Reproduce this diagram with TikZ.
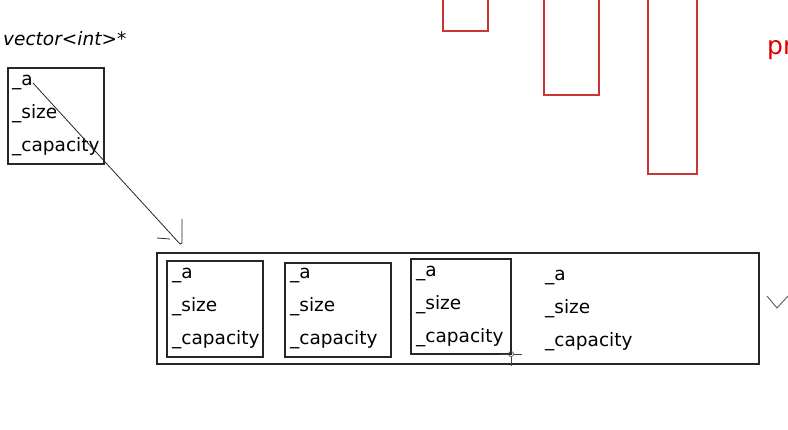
\documentclass[tikz,border=0pt]{standalone}
\usepackage{fontspec}
\setmainfont{DejaVu Sans}
\begin{document}
\begin{tikzpicture}[x=1pt,y=-1pt,
  blk/.style={draw=black!85,line width=1.1pt},
  redbox/.style={draw=red!75!black!80,line width=1.1pt},
  fld/.style={anchor=base west,inner sep=0pt,font=\fontsize{18.5}{20}\selectfont,text=black},
  thin/.style={draw=black!85,line width=0.8pt}]
\useasboundingbox (0,0) rectangle (788,430);
\clip (0,0) rectangle (788,430);
% red rectangles at top
\draw[redbox] (443,-2) rectangle (488,31);
\draw[redbox] (544,-2) rectangle (599,95);
\draw[redbox] (648,-2) rectangle (697,174);
\node[anchor=base west,inner sep=0pt,text=red!85!black,font=\fontsize{25}{28}\selectfont] (pr) at (767,55) {pr};
% pointer label
\node[anchor=base west,inner sep=0pt,font=\fontsize{18.5}{20}\selectfont\itshape,text=black] (lbl) at (3,46) {vector<int>*};
% pointer struct
\node[blk,draw,inner sep=0pt,minimum width=96pt,minimum height=96pt] (p) at (56,116) {};
\node[fld] (pa) at (12,86) {\_a};
\node[fld] (ps) at (12,119) {\_size};
\node[fld] (pc) at (12,152) {\_capacity};
% big container
\node[blk,draw,inner sep=0pt,minimum width=602pt,minimum height=111pt] (big) at (458,308.5) {};
% element boxes
\node[blk,draw,inner sep=0pt,minimum width=96pt,minimum height=96pt] (e1) at (215,309) {};
\node[fld] (e1a) at (172,279) {\_a};
\node[fld] (e1s) at (172,312) {\_size};
\node[fld] (e1c) at (172,345) {\_capacity};
\node[blk,draw,inner sep=0pt,minimum width=106pt,minimum height=94pt] (e2) at (338,310) {};
\node[fld] (e2a) at (290,279) {\_a};
\node[fld] (e2s) at (290,312) {\_size};
\node[fld] (e2c) at (290,345) {\_capacity};
\node[blk,draw,inner sep=0pt,minimum width=100pt,minimum height=95pt] (e3) at (461,306.5) {};
\node[fld] (e3a) at (416,277) {\_a};
\node[fld] (e3s) at (416,310) {\_size};
\node[fld] (e3c) at (416,343) {\_capacity};
\node[fld] (e4a) at (545,281) {\_a};
\node[fld] (e4s) at (545,314) {\_size};
\node[fld] (e4c) at (545,347) {\_capacity};
% pointer arrow (hand drawn)
\coordinate (start) at (33,83);
\coordinate (tip) at (180,244);
\draw[thin] (start) -- (tip);
\draw[thin] (157,238) -- (170,239);
\draw[thin] (182,219) -- (182,243) -- (tip);
% cursor mark
\node[draw=black!75,circle,inner sep=0pt,minimum size=5pt,line width=0.7pt] (cur) at (511,354) {};
\draw[black!75,line width=0.7pt] (500,354) -- (cur.west) (cur.east) -- (522,354) (cur.south) -- (511,366);
% chevron
\draw[black!60,line width=1pt] (767,296) -- (777,308) -- (788,296);
\end{tikzpicture}
\end{document}
